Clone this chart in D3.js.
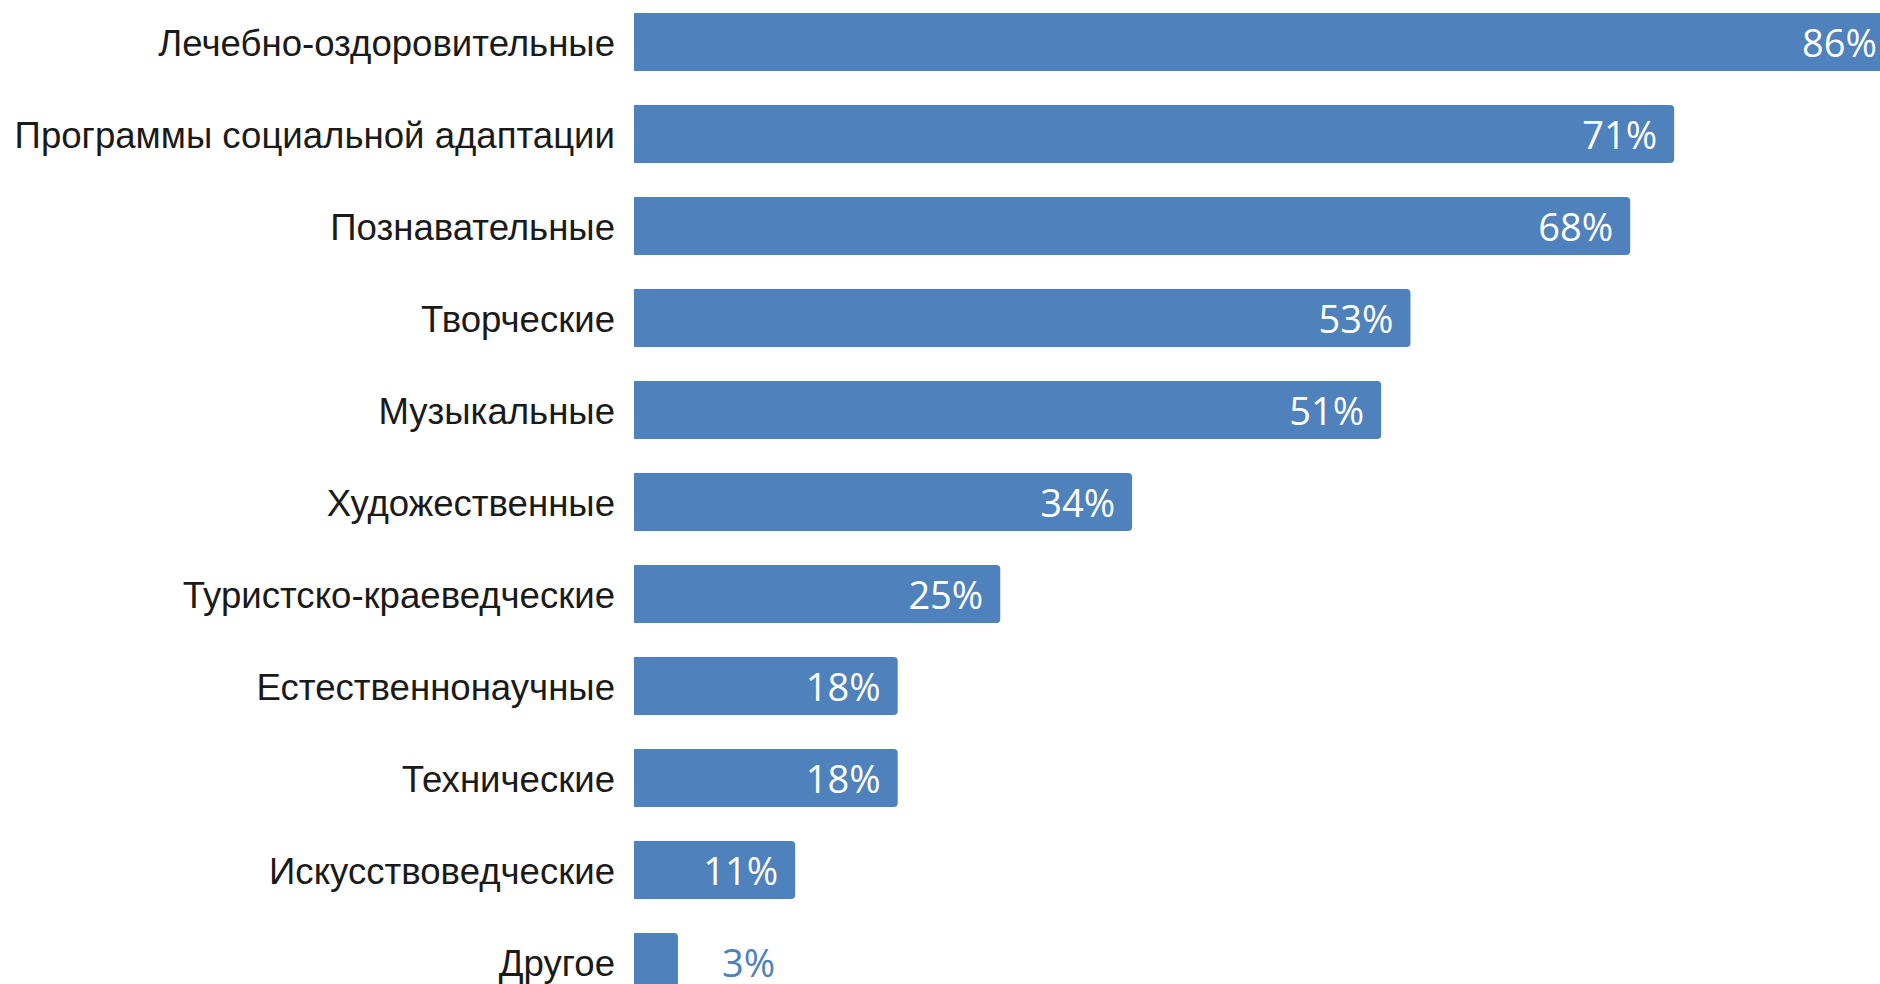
<!DOCTYPE html>
<html><head><meta charset="utf-8">
<script src="https://cdn.jsdelivr.net/npm/d3@7"></script>
<style>html,body{margin:0;padding:0;background:#fff;overflow:hidden}</style>
</head><body>
<svg id="chart" width="1880" height="984"></svg>
<script>
const categories = ["Лечебно-оздоровительные","Программы социальной адаптации","Познавательные","Творческие","Музыкальные","Художественные","Туристско-краеведческие","Естественнонаучные","Технические","Искусствоведческие","Другое"];
const values = [86,71,68,53,51,34,25,18,18,11,3];
const valueLabels = ["86%","71%","68%","53%","51%","34%","25%","18%","18%","11%","3%"];

const svg = d3.select("#chart");
const color = "#4f81bd";
const x = d3.scaleLinear().domain([0,100]).range([634, 634+1465]);
const y = d3.scaleBand().domain(categories).range([13, 991]).paddingInner(0.37).paddingOuter(0);
const r = 4;

const data = categories.map((c,i)=>({c, v: values[i], l: valueLabels[i]}));

function barPath(d){
  const x0 = x(0), x1 = x(d.v), y0 = y(d.c), h = y.bandwidth();
  return `M${x0},${y0}H${x1-r}Q${x1},${y0} ${x1},${y0+r}V${y0+h-r}Q${x1},${y0+h} ${x1-r},${y0+h}H${x0}Z`;
}

svg.append("g").selectAll("path").data(data).join("path")
  .attr("d", barPath).attr("fill", color);

svg.append("g").selectAll("text").data(data).join("text")
  .attr("x", x(0) - 19)
  .attr("y", d => y(d.c) + y.bandwidth()/2 + 1.5)
  .attr("dy", "0.35em")
  .attr("text-anchor", "end")
  .attr("font-family", "'Liberation Sans', Arial, sans-serif")
  .attr("font-size", 36.6)
  .attr("fill", "#1a1a1a")
  .text(d => d.c);

svg.append("g").selectAll("text").data(data).join("text")
  .attr("x", d => d.v >= 8 ? x(d.v) - 17 : x(d.v) + 44)
  .attr("y", d => y(d.c) + y.bandwidth()/2 + 1)
  .attr("dy", "0.36em")
  .attr("text-anchor", d => d.v >= 8 ? "end" : "start")
  .attr("font-family", "'Open Sans', sans-serif")
  .attr("font-size", 38)
  .attr("fill", d => d.v >= 8 ? "#ffffff" : color)
  .text(d => d.l);
</script>
</body></html>
